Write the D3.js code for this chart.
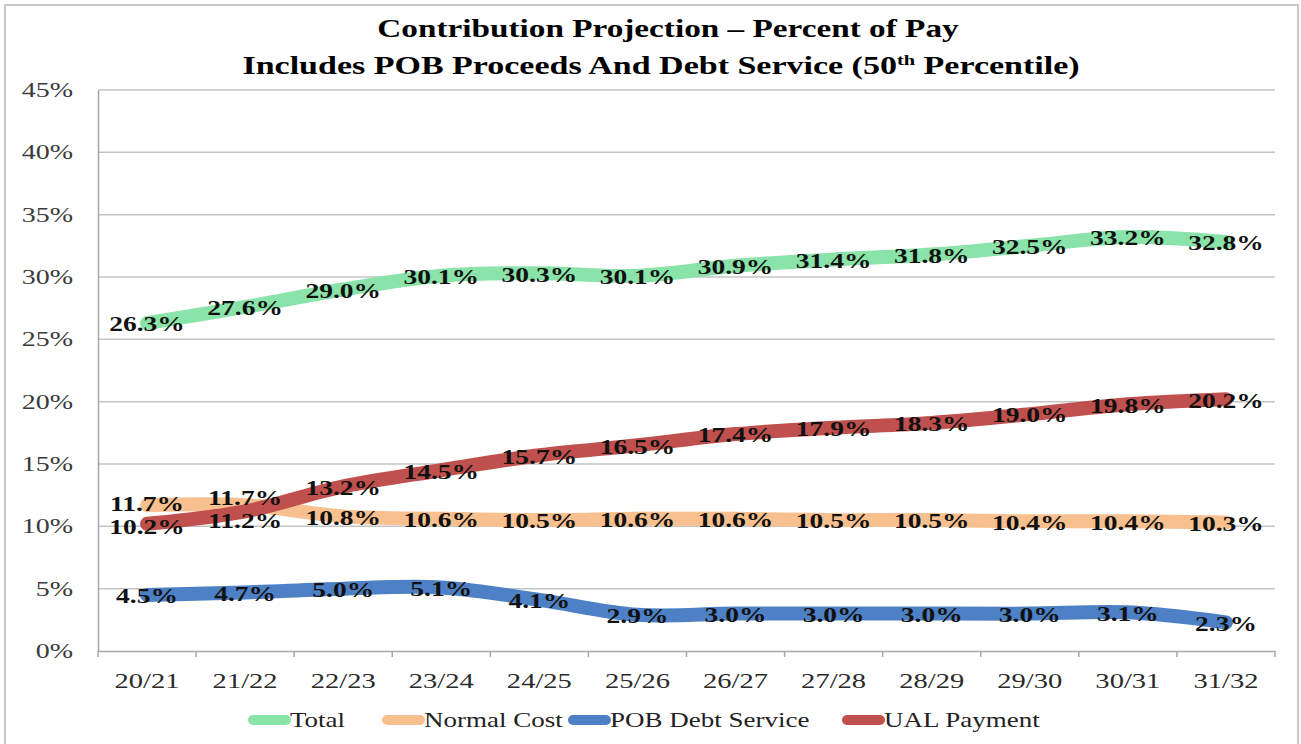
<!DOCTYPE html>
<html>
<head>
<meta charset="utf-8">
<script src="https://cdn.jsdelivr.net/npm/d3@7"></script>
<style>
  body { margin: 0; background: #fff; }
  text { font-family: "Liberation Serif", "Times New Roman", serif; }
</style>
</head>
<body>
<div id="chart"></div>
<script>
// categories (fiscal years)
let years = ["20/21", "21/22", "22/23", "23/24", "24/25", "25/26", "26/27", "27/28", "28/29", "29/30", "30/31", "31/32"];

// series values, percent of pay
let total       = [26.3, 27.6, 29.0, 30.1, 30.3, 30.1, 30.9, 31.4, 31.8, 32.5, 33.2, 32.8];
let normalCost  = [11.7, 11.7, 10.8, 10.6, 10.5, 10.6, 10.6, 10.5, 10.5, 10.4, 10.4, 10.3];
let pobDebt     = [4.5, 4.7, 5.0, 5.1, 4.1, 2.9, 3.0, 3.0, 3.0, 3.0, 3.1, 2.3];
let ualPayment  = [10.2, 11.2, 13.2, 14.5, 15.7, 16.5, 17.4, 17.9, 18.3, 19.0, 19.8, 20.2];

let yTicks = [0, 5, 10, 15, 20, 25, 30, 35, 40, 45];

let series = [
  { name: "Total", values: total, color: "#8ae3a8" },
  { name: "Normal Cost", values: normalCost, color: "#f8c08e" },
  { name: "POB Debt Service", values: pobDebt, color: "#4d80c4" },
  { name: "UAL Payment", values: ualPayment, color: "#c0504d" }
];

// the original picture is stretched sideways, so text gets widened too
function stretch(sel, s) {
  sel.each(function() {
    let t = d3.select(this);
    let x = +t.attr("x") || 0;
    let y = +t.attr("y") || 0;
    t.attr("x", 0).attr("y", 0)
      .attr("transform", "translate(" + x + "," + y + ") scale(" + s + ",1)");
  });
}

// chart dimensions
let svgWidth = 1301;
let svgHeight = 744;
let margin = { top: 90, right: 26, bottom: 93, left: 98 };
let chartWidth = svgWidth - margin.left - margin.right;
let chartHeight = svgHeight - margin.top - margin.bottom;

let svg = d3.select("#chart").append("svg")
  .attr("width", svgWidth)
  .attr("height", svgHeight);

// outer frame
svg.append("rect")
  .attr("x", 5).attr("y", 5)
  .attr("width", svgWidth - 8).attr("height", svgHeight - 4)
  .attr("fill", "none")
  .attr("stroke", "#c8c8c8")
  .attr("stroke-width", 2);

// title
let title = svg.append("text")
  .attr("x", 668).attr("y", 37)
  .attr("text-anchor", "middle")
  .style("font-size", "25px")
  .style("font-weight", "bold")
  .text("Contribution Projection \u2013 Percent of Pay");

let title2 = svg.append("text")
  .attr("x", 661).attr("y", 74)
  .attr("text-anchor", "middle")
  .style("font-size", "25px")
  .style("font-weight", "bold");
title2.append("tspan").text("Includes POB Proceeds And Debt Service (50");
title2.append("tspan").attr("dy", -9).style("font-size", "15px").text("th");
title2.append("tspan").attr("dy", 9).text(" Percentile)");

stretch(title, 1.33);
stretch(title2, 1.36);

let chartGroup = svg.append("g")
  .attr("transform", "translate(" + margin.left + "," + margin.top + ")");

// scales
let xScale = d3.scaleBand()
  .domain(years)
  .range([0, chartWidth]);

let yScale = d3.scaleLinear()
  .domain([0, 45])
  .range([chartHeight, 0]);

// gridlines
chartGroup.selectAll(".grid")
  .data(yTicks.slice(1))
  .enter()
  .append("line")
  .attr("x1", 0)
  .attr("x2", chartWidth)
  .attr("y1", function(d) { return yScale(d); })
  .attr("y2", function(d) { return yScale(d); })
  .attr("stroke", "#c4c4c4")
  .attr("stroke-width", 1.5);

// y axis
let yAxis = d3.axisLeft(yScale)
  .tickValues(yTicks)
  .tickSize(0)
  .tickPadding(25)
  .tickFormat(function(d) { return d + "%"; });

let yG = chartGroup.append("g").call(yAxis);
yG.select(".domain").attr("stroke", "#a8a8a8").attr("stroke-width", 1.5);
yG.selectAll("text")
  .style("font-size", "20px")
  .style("font-family", "'Liberation Serif', serif")
  .attr("fill", "#3a3a3a");
stretch(yG.selectAll("text"), 1.4);

// x axis
let xAxis = d3.axisBottom(xScale)
  .tickSize(0)
  .tickPadding(22);

let xG = chartGroup.append("g")
  .attr("transform", "translate(0," + chartHeight + ")")
  .call(xAxis);
xG.select(".domain").attr("stroke", "#a8a8a8").attr("stroke-width", 1.5);
xG.selectAll("text")
  .style("font-size", "21px")
  .style("font-family", "'Liberation Serif', serif")
  .attr("fill", "#2a2a2a");
stretch(xG.selectAll("text"), 1.36);

// tick marks between categories
xG.selectAll(".sep")
  .data(d3.range(years.length + 1))
  .enter()
  .append("line")
  .attr("x1", function(i) { return i * xScale.step(); })
  .attr("x2", function(i) { return i * xScale.step(); })
  .attr("y1", 0)
  .attr("y2", 6)
  .attr("stroke", "#a8a8a8")
  .attr("stroke-width", 1.5);

let cx = function(i) { return xScale(years[i]) + xScale.bandwidth() / 2; };

let line = d3.line()
  .x(function(d, i) { return cx(i); })
  .y(function(d) { return yScale(d); })
  .curve(d3.curveCatmullRom.alpha(0.5));

// lines
chartGroup.selectAll(".series")
  .data(series)
  .enter()
  .append("path")
  .attr("d", function(s) { return line(s.values); })
  .attr("fill", "none")
  .attr("stroke", function(s) { return s.color; })
  .attr("stroke-width", 14)
  .attr("stroke-linecap", "round")
  .attr("stroke-linejoin", "round");

// labels, nudge apart where two labels would overlap
let labels = [];
series.forEach(function(s) {
  s.values.forEach(function(v, i) {
    labels.push({ i: i, v: v, y: yScale(v) });
  });
});
d3.range(years.length).forEach(function(i) {
  let col = labels.filter(function(d) { return d.i === i; }).sort(function(a, b) { return a.y - b.y; });
  for (let k = 1; k < col.length; k++) {
    let gap = col[k].y - col[k - 1].y;
    if (gap < 23) {
      let push = (23 - gap) / 2;
      col[k - 1].y -= push;
      col[k].y += push;
    }
  }
});

let lbl = chartGroup.selectAll(".lbl")
  .data(labels)
  .enter()
  .append("text")
  .attr("x", function(d) { return cx(d.i); })
  .attr("y", function(d) { return d.y; })
  .attr("dy", "0.38em")
  .attr("text-anchor", "middle")
  .style("font-size", "22px")
  .style("font-weight", "bold")
  .attr("fill", "#111")
  .text(function(d) { return d.v.toFixed(1) + "%"; });
stretch(lbl, 1.25);

// legend
let legendX = [248, 382, 568, 842];
let legend = svg.append("g")
  .attr("transform", "translate(0,720)");

let items = legend.selectAll(".item")
  .data(series)
  .enter()
  .append("g")
  .attr("transform", function(s, i) { return "translate(" + legendX[i] + ",0)"; });

items.append("line")
  .attr("x1", 5).attr("x2", 38)
  .attr("y1", 0).attr("y2", 0)
  .attr("stroke", function(s) { return s.color; })
  .attr("stroke-width", 10)
  .attr("stroke-linecap", "round");

let legText = items.append("text")
  .attr("x", 42)
  .attr("dy", "0.35em")
  .style("font-size", "20px")
  .attr("fill", "#222")
  .text(function(s) { return s.name; });
stretch(legText, 1.35);
</script>
</body>
</html>
